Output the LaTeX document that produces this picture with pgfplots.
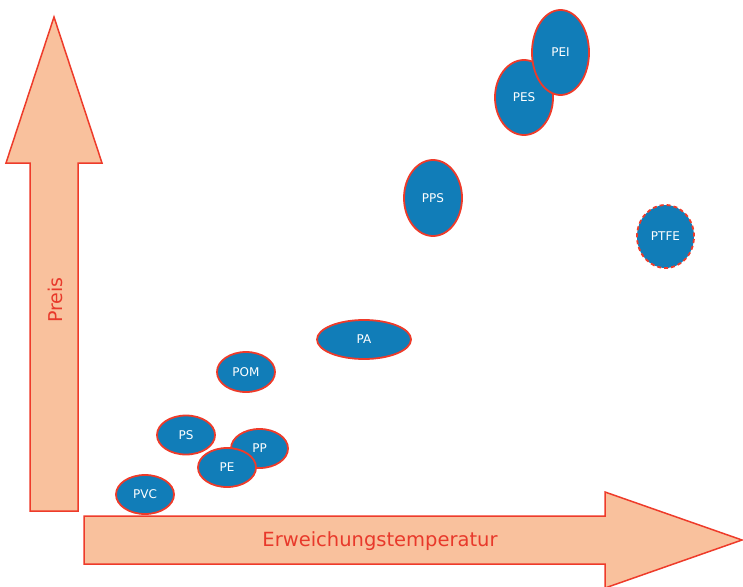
\documentclass[border=0pt]{standalone}
\usepackage{pgfplots}
\pgfplotsset{compat=1.18}
\usepackage{pgfplotstable}
\usepackage{fontspec}
\setmainfont{DejaVu Sans}
\definecolor{peach}{HTML}{F9C19D}
\definecolor{redline}{HTML}{EE3B2A}
\definecolor{blobblue}{HTML}{117DB8}
\definecolor{redtext}{HTML}{E8392B}

\pgfplotstableread{
x y rx ry label
145 494.5 29 19.5 PVC
186 435 29 19.5 PS
259.5 448.5 28.5 19.5 PP
227 467.5 29 19.5 PE
246 372 29 20 POM
364 339.5 47 19.5 PA
433 198 29 38 PPS
524 97.5 29 37.5 PES
560.5 52.5 28.5 42.5 PEI
}\blobs

\pgfplotstableread{
x y rx ry label
665.5 236.5 28.5 31.5 PTFE
}\ptfe

\pgfdeclareplotmark{ell}{%
  \pgfpathellipse{\pgfpointorigin}{\pgfpoint{\rx}{0}}{\pgfpoint{0}{\ry}}%
  \pgfusepathqfillstroke}

\begin{document}
\begin{tikzpicture}
\begin{axis}[
  scale only axis, width=743pt, height=586pt,
  xmin=0, xmax=743, ymin=0, ymax=586, y dir=reverse,
  hide axis, clip=false,
]
% vertical arrow
\addplot[draw=redline, fill=peach, line width=1.5pt] coordinates {
  (30,511) (30,163) (6,163) (54,17) (102,163) (78,163) (78,511) } -- cycle;
% horizontal arrow
\addplot[draw=redline, fill=peach, line width=1.5pt] coordinates {
  (84,516) (605,516) (605,492) (742,540) (605,588) (605,564) (84,564) } -- cycle;

\addplot[only marks, mark=ell,
  mark options={draw=redline, fill=blobblue, line width=1.8pt, solid},
  visualization depends on={\thisrow{rx}\as\rx},
  visualization depends on={\thisrow{ry}\as\ry},
  point meta=explicit symbolic,
  nodes near coords,
  every node near coord/.style={anchor=center, text=white, font=\fontsize{12}{14}\selectfont},
] table[x=x, y=y, meta=label] {\blobs};

\addplot[only marks, mark=ell,
  mark options={draw=redline, fill=blobblue, line width=1.8pt, dash pattern=on 4pt off 3pt},
  visualization depends on={\thisrow{rx}\as\rx},
  visualization depends on={\thisrow{ry}\as\ry},
  point meta=explicit symbolic,
  nodes near coords,
  every node near coord/.style={anchor=center, text=white, font=\fontsize{12}{14}\selectfont},
] table[x=x, y=y, meta=label] {\ptfe};

\node[rotate=90, text=redtext, font=\fontsize{19}{22}\selectfont] at (axis cs:55,300) {Preis};
\node[text=redtext, font=\fontsize{19.5}{22}\selectfont] at (axis cs:380,541) {Erweichungstemperatur};
\end{axis}
\pgfresetboundingbox
\path[use as bounding box] (current axis.south west) rectangle (current axis.north east);
\end{tikzpicture}
\end{document}
